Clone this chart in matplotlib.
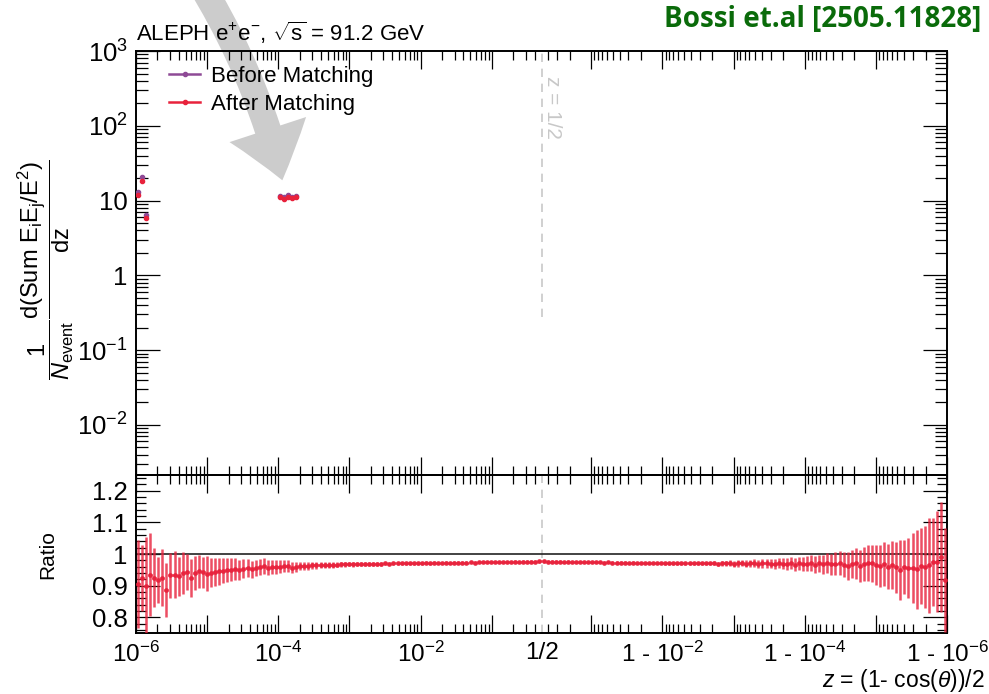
import numpy as np
import matplotlib
matplotlib.use("Agg")
import matplotlib.pyplot as plt
from matplotlib.ticker import FixedLocator, FixedFormatter, MultipleLocator, NullFormatter
from matplotlib.lines import Line2D
from matplotlib.patches import FancyArrowPatch

plt.rcParams['font.family'] = ['Liberation Sans', 'DejaVu Sans']
plt.rcParams['mathtext.fontset'] = 'custom'
plt.rcParams['mathtext.rm'] = 'Liberation Sans'
plt.rcParams['mathtext.it'] = 'Liberation Sans:italic'
plt.rcParams['mathtext.bf'] = 'Liberation Sans:bold'

# ---- data ----
n_bins_half = 100

# ratio After/Before, left half: bins from z=1e-6 up to z=1/2
ratio_left = [0.905, 0.925, 0.900, 0.935, 0.925, 0.918, 0.925, 0.885, 0.932, 0.935,
              0.930, 0.940, 0.943, 0.925, 0.940, 0.945, 0.942, 0.938, 0.940, 0.943,
              0.945, 0.947, 0.948, 0.950, 0.952, 0.949, 0.953, 0.955, 0.952, 0.956,
              0.958, 0.962, 0.957, 0.959, 0.958, 0.960, 0.961, 0.962, 0.957, 0.960,
              0.962, 0.963, 0.962, 0.964, 0.964, 0.965, 0.965, 0.966, 0.966, 0.966,
              0.967, 0.967, 0.968, 0.967, 0.968, 0.968, 0.969, 0.968, 0.969, 0.969,
              0.969, 0.970, 0.969, 0.970, 0.970, 0.970, 0.971, 0.970, 0.971, 0.971,
              0.971, 0.972, 0.971, 0.972, 0.972, 0.972, 0.973, 0.972, 0.973, 0.973,
              0.973, 0.973, 0.974, 0.973, 0.974, 0.974, 0.974, 0.975, 0.974, 0.975,
              0.975, 0.975, 0.975, 0.976, 0.975, 0.976, 0.976, 0.976, 0.976, 0.977]
err_left = [0.140, 0.105, 0.155, 0.130, 0.094, 0.073, 0.090, 0.085, 0.070, 0.075,
            0.062, 0.065, 0.058, 0.060, 0.055, 0.052, 0.050, 0.055, 0.046, 0.044,
            0.042, 0.040, 0.038, 0.036, 0.034, 0.032, 0.030, 0.028, 0.027, 0.026,
            0.026, 0.025, 0.024, 0.023, 0.022, 0.020, 0.019, 0.018, 0.017, 0.016,
            0.014, 0.013, 0.012, 0.012, 0.011, 0.010, 0.010, 0.009, 0.009, 0.008,
            0.008, 0.008, 0.007, 0.007, 0.007, 0.007, 0.006, 0.006, 0.006, 0.006,
            0.006, 0.006, 0.005, 0.005, 0.005, 0.005, 0.005, 0.005, 0.005, 0.005,
            0.005, 0.005, 0.005, 0.005, 0.004, 0.004, 0.004, 0.004, 0.004, 0.004,
            0.004, 0.004, 0.004, 0.004, 0.004, 0.004, 0.004, 0.004, 0.004, 0.004,
            0.004, 0.004, 0.004, 0.004, 0.004, 0.004, 0.004, 0.004, 0.004, 0.004]

# right half: bins from z=1/2 up to z=1-1e-6
ratio_right = [0.977, 0.976, 0.976, 0.976, 0.976, 0.975, 0.976, 0.975, 0.975, 0.975,
               0.974, 0.975, 0.974, 0.974, 0.974, 0.973, 0.974, 0.973, 0.973, 0.973,
               0.973, 0.972, 0.973, 0.972, 0.972, 0.972, 0.972, 0.971, 0.972, 0.971,
               0.971, 0.971, 0.971, 0.971, 0.970, 0.971, 0.970, 0.970, 0.971, 0.970,
               0.970, 0.970, 0.971, 0.969, 0.970, 0.970, 0.971, 0.969, 0.970, 0.971,
               0.969, 0.970, 0.971, 0.968, 0.970, 0.971, 0.969, 0.968, 0.971, 0.969,
               0.968, 0.970, 0.966, 0.971, 0.968, 0.969, 0.972, 0.966, 0.970, 0.968,
               0.971, 0.967, 0.969, 0.972, 0.966, 0.962, 0.969, 0.970, 0.962, 0.968,
               0.972, 0.970, 0.966, 0.963, 0.968, 0.960, 0.965, 0.958, 0.950, 0.960,
               0.957, 0.955, 0.952, 0.962, 0.960, 0.964, 0.975, 0.975, 0.990, 0.918]
err_right = [0.004, 0.004, 0.004, 0.004, 0.004, 0.004, 0.004, 0.004, 0.004, 0.004,
             0.004, 0.004, 0.004, 0.004, 0.004, 0.004, 0.004, 0.004, 0.004, 0.004,
             0.004, 0.004, 0.004, 0.004, 0.004, 0.004, 0.004, 0.004, 0.004, 0.004,
             0.005, 0.005, 0.005, 0.005, 0.005, 0.005, 0.005, 0.005, 0.005, 0.005,
             0.006, 0.006, 0.007, 0.007, 0.008, 0.008, 0.009, 0.009, 0.010, 0.010,
             0.011, 0.011, 0.012, 0.012, 0.013, 0.014, 0.014, 0.015, 0.016, 0.017,
             0.018, 0.019, 0.020, 0.021, 0.022, 0.024, 0.025, 0.027, 0.028, 0.030,
             0.032, 0.034, 0.036, 0.038, 0.040, 0.043, 0.045, 0.048, 0.050, 0.053,
             0.056, 0.060, 0.063, 0.066, 0.070, 0.072, 0.076, 0.080, 0.095, 0.085,
             0.095, 0.110, 0.125, 0.120, 0.130, 0.150, 0.140, 0.160, 0.175, 0.165]

# upper panel: only a few filled bins are visible (bin index in the left half)
top_bins = [0, 1, 2, 35, 36, 37, 38, 39]
before_vals = [12.9, 20.4, 6.4, 11.5, 11.1, 11.7, 11.1, 11.4]
after_vals = [11.7, 18.5, 5.8, 11.0, 10.6, 11.2, 10.7, 11.0]

c_before = '#8e4a96'
c_after = '#e8223c'
c_gray = '#c8c8c8'

# ---- folded log axis: log10(z) below 1/2, mirrored log10(1-z) above ----
L2 = np.log10(0.5)


def fwd(z):
    z = np.asarray(z, dtype=float)
    with np.errstate(all='ignore'):
        return np.where(z <= 0.5, np.log10(z), 2 * L2 - np.log10(1 - z))


def inv(u):
    u = np.asarray(u, dtype=float)
    with np.errstate(all='ignore'):
        return np.where(u <= L2, 10.0 ** u, 1 - 10.0 ** (2 * L2 - u))


zmin, zmax = 1e-6, 1 - 1e-6
u_edges = np.linspace(fwd(zmin), fwd(zmax), 2 * n_bins_half + 1)
edges = inv(u_edges)
centers = inv(0.5 * (u_edges[:-1] + u_edges[1:]))
lo, hi = edges[:-1], edges[1:]

ratio = np.array(ratio_left + ratio_right)
rerr = np.array(err_left + err_right)

fig = plt.figure(figsize=(9.89, 6.94), dpi=100)
fig.patch.set_facecolor('white')
W, H = 989.0, 694.0
left_px, right_px = 136, 947
ax = fig.add_axes([left_px / W, 1 - 475 / H, (right_px - left_px) / W, (475 - 51) / H])
axr = fig.add_axes([left_px / W, 1 - 633 / H, (right_px - left_px) / W, (633 - 475) / H])

for a in (ax, axr):
    a.set_xscale('function', functions=(fwd, inv))
    a.set_xlim(zmin, zmax)
    a.set_facecolor('none')
    for s in a.spines.values():
        s.set_linewidth(1.4)

# x ticks
dec = [1e-6, 1e-5, 1e-4, 1e-3, 1e-2, 1e-1]
major_x = dec + [1 - d for d in dec[::-1]]
major_lab = [r'$10^{-6}$', '', r'$10^{-4}$', '', r'$10^{-2}$', '',
             '', r'1 - $10^{-2}$', '', r'1 - $10^{-4}$', '', r'1 - $10^{-6}$']
minor_x = []
for d in dec:
    for m in range(2, 10):
        v = m * d
        if v < 0.5:
            minor_x.append(v)
            minor_x.append(1 - v)

for a in (ax, axr):
    a.xaxis.set_major_locator(FixedLocator(major_x))
    a.xaxis.set_minor_locator(FixedLocator(sorted(minor_x)))
    a.xaxis.set_minor_formatter(NullFormatter())
    a.tick_params(axis='x', which='major', direction='in', length=13, width=0.9,
                  top=True, bottom=True)
    a.tick_params(axis='x', which='minor', direction='in', length=6.5, width=0.9,
                  top=True, bottom=True)
ax.xaxis.set_major_formatter(NullFormatter())
axr.xaxis.set_major_formatter(FixedFormatter(major_lab))
axr.tick_params(axis='x', which='major', labelsize=17.5, pad=6)
axr.text(0.5, -0.058, '1/2', transform=axr.get_xaxis_transform(), ha='center',
         va='top', fontsize=17.5)

# ---- upper panel ----
ax.set_yscale('log')
ax.set_ylim(10 ** -2.67, 1e3)
ax.yaxis.set_major_locator(FixedLocator([1e-2, 1e-1, 1, 10, 1e2, 1e3]))
ax.yaxis.set_major_formatter(FixedFormatter([r'$10^{-2}$', r'$10^{-1}$', '1', '10',
                                             r'$10^{2}$', r'$10^{3}$']))
ax.tick_params(axis='y', which='major', direction='in', length=17, width=0.9,
               right=True, labelsize=18.5, pad=6)
ax.tick_params(axis='y', which='minor', direction='in', length=8.5, width=0.9, right=True)

tb = np.array(top_bins)
xc = centers[tb]
xe = [xc - lo[tb], hi[tb] - xc]
ax.errorbar(xc, before_vals, xerr=xe, yerr=np.array(before_vals) * 0.04, fmt='o', ms=3,
            color=c_before, elinewidth=1.8, capsize=0, zorder=3)
ax.errorbar(xc, after_vals, xerr=xe, yerr=np.array(after_vals) * 0.04, fmt='o', ms=3,
            color=c_after, elinewidth=1.8, capsize=0, zorder=4)

ax.plot([0.5, 0.5], [0.28, 1e3], color=c_gray, lw=1.2, ls=(0, (5, 4)), zorder=1)
ax.text(0.52, 0.94, 'z = 1/2', transform=ax.get_xaxis_transform(), rotation=-90,
        color=c_gray, fontsize=15, ha='left', va='top')

handles = [Line2D([], [], color=c_before, marker='o', ms=3, lw=1.8),
           Line2D([], [], color=c_after, marker='o', ms=3, lw=1.8)]
ax.legend(handles, ['Before Matching', 'After Matching'], loc='upper left',
          bbox_to_anchor=(0.03, 0.985), frameon=False, fontsize=16,
          handlelength=1.4, handletextpad=0.5, labelspacing=0.3, borderaxespad=0)

fig.text(left_px / W, 1 - 33 / H, r'ALEPH e$^{+}$e$^{-}$, $\sqrt{\mathrm{s}}$ = 91.2 GeV',
         fontsize=16, ha='left', va='center')
fig.text(981 / W, 1 - 20 / H, 'Bossi et.al [2505.11828]', fontsize=20,
         fontweight='bold', color='#0a6b0a', family=['Open Sans', 'DejaVu Sans'],
         ha='right', va='center')

fig.text(46 / W, 1 - 270 / H,
         r'$\dfrac{1}{N_{\mathrm{event}}}\dfrac{\mathrm{d(Sum\ E_{i}E_{j}/E^{2})}}{\mathrm{dz}}$',
         rotation=90, fontsize=17, ha='center', va='center')

# ---- ratio panel ----
axr.set_ylim(0.75, 1.25)
axr.yaxis.set_major_locator(FixedLocator([0.8, 0.9, 1.0, 1.1, 1.2]))
axr.yaxis.set_major_formatter(FixedFormatter(['0.8', '0.9', '1', '1.1', '1.2']))
axr.yaxis.set_minor_locator(MultipleLocator(0.02))
axr.tick_params(axis='y', which='major', direction='in', length=17, width=0.9,
                right=True, labelsize=18.5, pad=6)
axr.tick_params(axis='y', which='minor', direction='in', length=7, width=0.9, right=True)
axr.axhline(1.0, color='#222222', lw=1.2, zorder=2)
axr.axvline(0.5, color=c_gray, lw=1.2, ls=(0, (5, 4)), zorder=1)
axr.errorbar(centers, ratio, yerr=rerr, xerr=[centers - lo, hi - centers], fmt='o', ms=2.5,
             color=c_after, alpha=0.8, elinewidth=1.8, capsize=0, zorder=3)

fig.text(48 / W, 1 - 555 / H, 'Ratio', rotation=90, fontsize=15, ha='center', va='center')
fig.text(985 / W, 1 - 680 / H, r'$z$ = (1- cos($\theta$))/2', fontsize=16.5,
         ha='right', va='center')

# grey annotation arrow
arrow = FancyArrowPatch((198 / W, 1 + 20 / H), (283 / W, 1 - 183 / H),
                        transform=fig.transFigure, connectionstyle='arc3,rad=-0.08',
                        arrowstyle='simple,head_length=38,head_width=58,tail_width=19',
                        color='#cccccc', lw=0, zorder=-1)
fig.add_artist(arrow)

fig.savefig('out.png', dpi=100, facecolor='white')
